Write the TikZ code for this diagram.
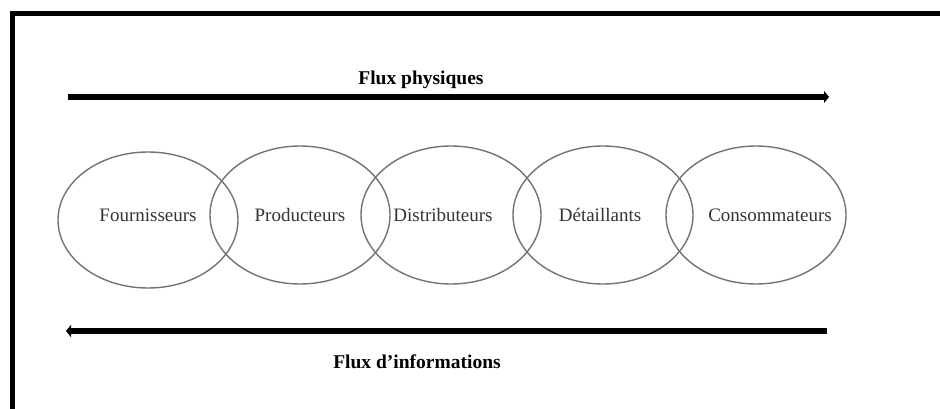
\documentclass[tikz,border=0pt]{standalone}
\usepackage{fontspec}
\setmainfont{Liberation Serif}
\usetikzlibrary{arrows.meta,shapes.geometric}
\begin{document}
\begin{tikzpicture}[x=1pt,y=-1pt,
  actor/.style={draw=black!55,line width=1.4pt,ellipse,minimum width=180pt,minimum height=138pt,inner sep=0pt},
  lbl/.style={font=\fontsize{19}{22}\selectfont,text=black!80},
  flow/.style={line width=6pt,-{Triangle[length=5pt,width=12pt]}},
  title/.style={font=\fontsize{19.5}{22}\selectfont\bfseries}]
\useasboundingbox (0,0) rectangle (940,409);
% partial frame
\draw[line width=5pt] (12,409) -- (12,13.5) -- (940,13.5);
% top flow
\node[title] (tphys) at (421,80) {Flux physiques};
\coordinate (p0) at (68,97);
\coordinate (p1) at (829,97);
\draw[flow] (p0) -- (p1);
% actors
\node[actor,minimum height=136pt] (f) at (148,220) {};
\node[actor] (p) at (300,215) {};
\node[actor] (d) at (451,215) {};
\node[actor] (t) at (603,215) {};
\node[actor] (c) at (756,215) {};
\node[lbl] (lf) at (148,215) {Fournisseurs};
\node[lbl] (lp) at (300,215) {Producteurs};
\node[lbl] (ld) at (443,215) {Distributeurs};
\node[lbl] (lt) at (600,215) {Détaillants};
\node[lbl] (lc) at (770,215) {Consommateurs};
% bottom flow
\coordinate (q0) at (827,331);
\coordinate (q1) at (66,331);
\draw[flow] (q0) -- (q1);
\node[title] (tinfo) at (417,362) {Flux d’informations};
\end{tikzpicture}
\end{document}
